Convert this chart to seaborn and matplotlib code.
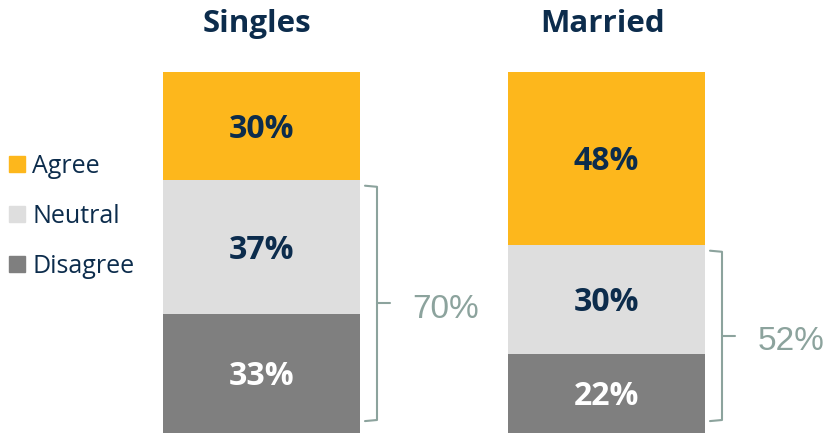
import numpy as np
import pandas as pd
import matplotlib
matplotlib.use("Agg")
import matplotlib.pyplot as plt
import seaborn as sns
from matplotlib.patches import Patch

# data
groups = ["Singles", "Married"]
agree = [30, 48]
neutral = [37, 30]
disagree = [33, 22]
legend_labels = ["Agree", "Neutral", "Disagree"]

c_agree = "#FDB71C"
c_neutral = "#DEDEDE"
c_disagree = "#7F7F7F"
navy = "#0C2C4C"
brace_col = "#8CA39D"

sns.set_theme(style="white")
plt.rcParams["font.family"] = ["Open Sans", "DejaVu Sans"]

df = pd.DataFrame({"group": groups, "agree": agree, "neutral": neutral, "disagree": disagree})
df["nd"] = df["neutral"] + df["disagree"]
df["total"] = df["agree"] + df["nd"]

fig = plt.figure(figsize=(8.27, 4.33), dpi=100)
ax = fig.add_axes([0, 0, 1, 361 / 433])

w = 197 / 345
sns.barplot(data=df, x="group", y="total", color=c_agree, width=w, linewidth=0, saturation=1, ax=ax)
sns.barplot(data=df, x="group", y="nd", color=c_neutral, width=w, linewidth=0, saturation=1, ax=ax)
sns.barplot(data=df, x="group", y="disagree", color=c_disagree, width=w, linewidth=0, saturation=1, ax=ax)

ax.set_xlim(-261.5 / 345, (827 - 261.5) / 345)
ax.set_ylim(0, 100)
ax.axis("off")

px = 1 / 345  # one pixel in x data units
for i, row in df.iterrows():
    ax.text(i, row["nd"] + row["agree"] / 2 - 0.9, f"{row['agree']}%", ha="center", va="center",
            fontsize=23, fontweight="bold", color=navy)
    ax.text(i, row["disagree"] + row["neutral"] / 2 - 0.9, f"{row['neutral']}%", ha="center", va="center",
            fontsize=23, fontweight="bold", color=navy)
    ax.text(i, row["disagree"] / 2 - 0.9, f"{row['disagree']}%", ha="center", va="center",
            fontsize=23, fontweight="bold", color="white")
    fig.text((257.5 + i * 345) / 827, 1 - 24 / 433, row["group"], ha="center", va="center",
             fontsize=22.5, fontweight="bold", color=navy)

    # bracket around neutral + disagree
    xr = i + w / 2
    xv = xr + 17 * px
    top = row["nd"] - 1.8
    bot = 3.6
    mid = (top + bot) / 2
    ax.plot([xr + 5 * px, xv, xv, xr + 5 * px], [top + 0.3, top, bot, bot - 0.3],
            color=brace_col, lw=1.5, solid_capstyle="round", solid_joinstyle="round")
    ax.plot([xv, xr + 30 * px], [mid, mid], color=brace_col, lw=1.5, solid_capstyle="round")
    ax.text(xr + 86 * px, mid - 1.6, f"{row['nd']}%", ha="center", va="center",
            fontsize=24, color=brace_col, family=["Liberation Sans", "DejaVu Sans"])

handles = [Patch(color=c) for c in [c_agree, c_neutral, c_disagree]]
fig.legend(handles, legend_labels, loc="upper left", bbox_to_anchor=(9 / 827, 1 - 154 / 433),
           frameon=False, fontsize=18, labelcolor=navy, handlelength=0.64, handleheight=0.64,
           handletextpad=0.3, labelspacing=1.0, borderpad=0, borderaxespad=0)

fig.savefig("out.png", dpi=100)
